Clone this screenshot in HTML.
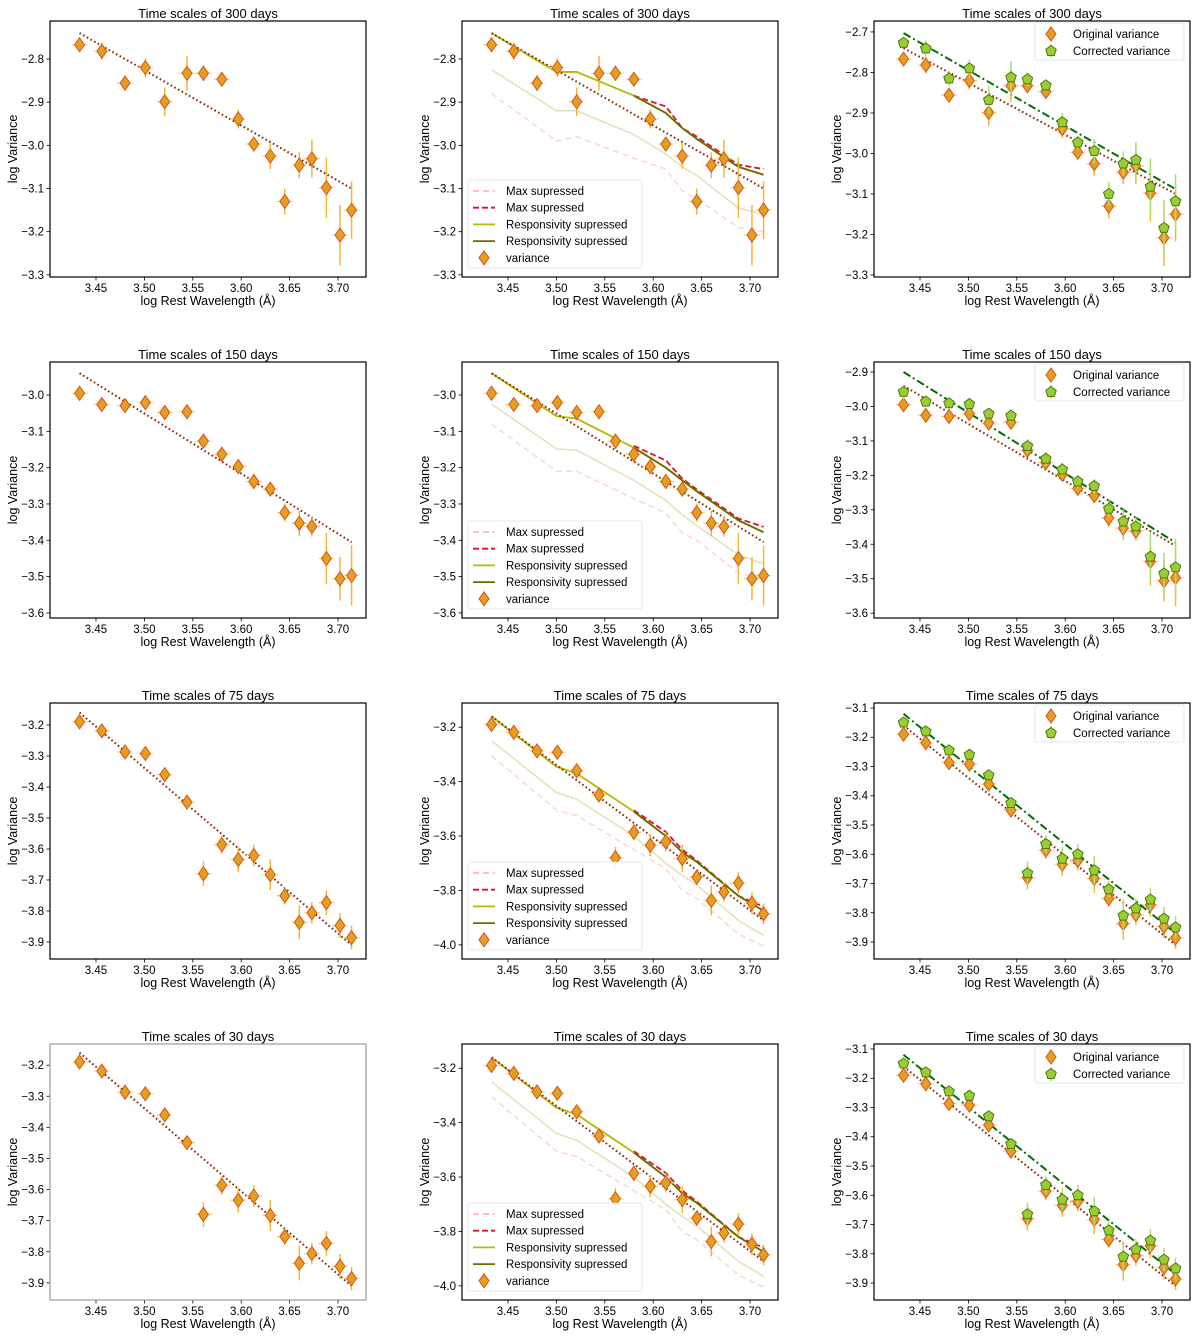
<!DOCTYPE html>
<html><head><meta charset="utf-8"><style>
html,body{margin:0;padding:0;background:#fff;}
svg text{font-family:"Liberation Sans","DejaVu Sans",sans-serif;fill:#000;}
</style></head><body>
<svg id="fig" width="1200" height="1336" viewBox="0 0 1200 1336" xmlns="http://www.w3.org/2000/svg"></svg>
<script>
// ---- data ----
const xs = [3.433,3.456,3.480,3.501,3.521,3.544,3.561,3.580,3.597,3.613,3.630,3.645,3.660,3.673,3.688,3.702,3.714];
const timescales = ["300","150","75","30"];
const var300 = [-2.767,-2.782,-2.856,-2.820,-2.899,-2.833,-2.833,-2.847,-2.939,-2.997,-3.025,-3.130,-3.046,-3.031,-3.098,-3.208,-3.150];
const err300 = [0.012,0.02,0.018,0.022,0.033,0.04,0.018,0.012,0.022,0.016,0.03,0.03,0.03,0.044,0.07,0.07,0.067];
const var150 = [-2.995,-3.026,-3.029,-3.021,-3.048,-3.046,-3.127,-3.163,-3.197,-3.238,-3.259,-3.324,-3.353,-3.362,-3.450,-3.506,-3.497];
const err150 = [0.02,0.012,0.015,0.018,0.015,0.02,0.02,0.02,0.02,0.02,0.02,0.025,0.035,0.028,0.07,0.06,0.083];
const var75 = [-3.190,-3.219,-3.287,-3.292,-3.360,-3.449,-3.680,-3.586,-3.634,-3.621,-3.683,-3.751,-3.837,-3.806,-3.773,-3.847,-3.886];
const err75 = [0.015,0.015,0.015,0.015,0.015,0.02,0.04,0.03,0.04,0.035,0.05,0.028,0.055,0.035,0.04,0.04,0.038];
const var30 = [-3.190,-3.219,-3.287,-3.292,-3.360,-3.449,-3.680,-3.586,-3.634,-3.621,-3.683,-3.751,-3.837,-3.806,-3.773,-3.847,-3.886];
const err30 = [0.015,0.015,0.015,0.015,0.015,0.02,0.04,0.03,0.04,0.035,0.05,0.028,0.055,0.035,0.04,0.04,0.038];
const corr300 = [-2.727,-2.741,-2.815,-2.790,-2.868,-2.812,-2.817,-2.832,-2.923,-2.973,-2.994,-3.100,-3.025,-3.016,-3.082,-3.184,-3.118];
const corr150 = [-2.958,-2.986,-2.991,-2.993,-3.021,-3.027,-3.115,-3.152,-3.183,-3.218,-3.231,-3.297,-3.334,-3.348,-3.436,-3.485,-3.467];
const corr75 = [-3.150,-3.180,-3.245,-3.260,-3.330,-3.425,-3.665,-3.565,-3.615,-3.600,-3.655,-3.720,-3.810,-3.785,-3.755,-3.820,-3.850];
const corr30 = [-3.150,-3.180,-3.245,-3.260,-3.330,-3.425,-3.665,-3.565,-3.615,-3.600,-3.655,-3.720,-3.810,-3.785,-3.755,-3.820,-3.850];
const fitOrig = [[-2.74,-3.10],[-2.94,-3.405],[-3.16,-3.91],[-3.16,-3.91]];
const fitCorr = [[-2.703,-3.088],[-2.90,-3.395],[-3.12,-3.87],[-3.12,-3.87]];
const modelX = [3.433,3.500,3.521,3.580,3.613,3.630,3.645,3.688,3.714];
const redX = [3.580,3.613,3.630,3.645,3.688,3.714];
const upper300 = [-2.74,-2.83,-2.83,-2.885,-2.925,-2.96,-2.985,-3.05,-3.068];
const red300 = [-2.885,-2.91,-2.96,-2.98,-3.045,-3.055];
const paleY300 = [-2.825,-2.92,-2.92,-2.975,-3.02,-3.05,-3.07,-3.145,-3.16];
const paleP300 = [-2.88,-2.99,-2.98,-3.03,-3.055,-3.105,-3.125,-3.19,-3.20];
const upper150 = [-2.94,-3.058,-3.065,-3.145,-3.20,-3.235,-3.265,-3.345,-3.378];
const red150 = [-3.14,-3.18,-3.23,-3.26,-3.34,-3.363];
const paleY150 = [-3.025,-3.148,-3.152,-3.235,-3.29,-3.33,-3.36,-3.44,-3.465];
const paleP150 = [-3.08,-3.21,-3.21,-3.285,-3.325,-3.38,-3.40,-3.49,-3.505];
const upper75 = [-3.16,-3.345,-3.37,-3.51,-3.60,-3.66,-3.695,-3.82,-3.875];
const red75 = [-3.505,-3.585,-3.65,-3.69,-3.82,-3.86];
const paleY75 = [-3.25,-3.44,-3.465,-3.60,-3.70,-3.745,-3.78,-3.91,-3.965];
const paleP75 = [-3.305,-3.505,-3.525,-3.65,-3.72,-3.80,-3.83,-3.96,-4.005];
const xTicks = [3.45,3.50,3.55,3.60,3.65,3.70];

const rowsVar = [var300,var150,var75,var30];
const rowsErr = [err300,err150,err75,err30];
const rowsCorr = [corr300,corr150,corr75,corr30];
const rowsUpper = [upper300,upper150,upper75,upper75];
const rowsRed = [red300,red150,red75,red75];
const rowsPaleY = [paleY300,paleY150,paleY75,paleY75];
const rowsPaleP = [paleP300,paleP150,paleP75,paleP75];
const ylims = [
 [[-3.305,-2.712],[-3.305,-2.712],[-3.305,-2.673]],
 [[-3.614,-2.909],[-3.614,-2.909],[-3.614,-2.871]],
 [[-3.955,-3.129],[-4.052,-3.111],[-3.958,-3.083]],
 [[-3.955,-3.132],[-4.052,-3.111],[-3.958,-3.083]]];
const yticks = [
 [[-2.8,-2.9,-3.0,-3.1,-3.2,-3.3],[-2.8,-2.9,-3.0,-3.1,-3.2,-3.3],[-2.7,-2.8,-2.9,-3.0,-3.1,-3.2,-3.3]],
 [[-3.0,-3.1,-3.2,-3.3,-3.4,-3.5,-3.6],[-3.0,-3.1,-3.2,-3.3,-3.4,-3.5,-3.6],[-2.9,-3.0,-3.1,-3.2,-3.3,-3.4,-3.5,-3.6]],
 [[-3.2,-3.3,-3.4,-3.5,-3.6,-3.7,-3.8,-3.9],[-3.2,-3.4,-3.6,-3.8,-4.0],[-3.1,-3.2,-3.3,-3.4,-3.5,-3.6,-3.7,-3.8,-3.9]],
 [[-3.2,-3.3,-3.4,-3.5,-3.6,-3.7,-3.8,-3.9],[-3.2,-3.4,-3.6,-3.8,-4.0],[-3.1,-3.2,-3.3,-3.4,-3.5,-3.6,-3.7,-3.8,-3.9]]];

const NS = "http://www.w3.org/2000/svg";
const svg = document.getElementById('fig');
const colL = [50,462,874], rowT = [21,362,703,1044], W = 316, H = 256;
const XMIN = 3.4025, XMAX = 3.7289;
function mk(tag, attrs, parent){const e=document.createElementNS(NS,tag);for(const k in attrs)e.setAttribute(k,attrs[k]);(parent||svg).appendChild(e);return e;}
function fmt(v,d){return (v<0?"\u2212":"")+Math.abs(v).toFixed(d);}
function diamond(x,y){return `${x},${y-7} ${x+5},${y} ${x},${y+7} ${x-5},${y}`;}

for(let r=0;r<4;r++){for(let c=0;c<3;c++){
  const L=colL[c],T=rowT[r],[ymin,ymax]=ylims[r][c];
  const X=v=>L+(v-XMIN)/(XMAX-XMIN)*W;
  const Y=v=>T+(ymax-v)/(ymax-ymin)*H;
  const g=mk('g',{});
  
  
  const t=mk('text',{x:L+W/2,y:T-3,'text-anchor':'middle','font-size':13},g);t.textContent='Time scales of '+timescales[r]+' days';
  
  const xl=mk('text',{x:L+W/2,y:T+H+28,'text-anchor':'middle','font-size':12.5},g);xl.textContent='log Rest Wavelength (\u00C5)';
  
  const yl=mk('text',{x:0,y:0,'text-anchor':'middle','font-size':12.5,transform:`translate(${L-33},${T+H/2}) rotate(-90)`},g);yl.textContent='log Variance';
  
  xTicks.forEach(v=>{const x=X(v);mk('line',{x1:x,x2:x,y1:T+H,y2:T+H+3.5,stroke:'#000','stroke-width':0.8},g);
    const tt=mk('text',{x:x,y:T+H+15,'text-anchor':'middle','font-size':11.5},g);tt.textContent=v.toFixed(2);
    });
  yticks[r][c].forEach(v=>{const y=Y(v);mk('line',{x1:L-3.5,x2:L,y1:y,y2:y,stroke:'#000','stroke-width':0.8},g);
    const tt=mk('text',{x:L-6,y:y+4,'text-anchor':'end','font-size':11.5},g);tt.textContent=fmt(v,1);
    });
  const poly=(xa,ya,st,name)=>{const p=mk('polyline',Object.assign({points:xa.map((x,i)=>X(x)+','+Y(ya[i])).join(' '),fill:'none'},st),g);
    return p;};
  if(c===1){
    poly(modelX,rowsPaleP[r],{stroke:'#ffc0cb','stroke-width':1.5,'stroke-dasharray':'6,4',opacity:0.7},'max-suppressed-lower-line');
    poly(modelX,rowsPaleY[r],{stroke:'#d8d49a','stroke-width':1.5,opacity:0.7},'responsivity-suppressed-lower-line');
    poly(modelX,rowsUpper[r],{stroke:'#ffb6c1','stroke-width':1.5,'stroke-dasharray':'6,4'},'max-suppressed-upper-line');
    poly(redX,rowsRed[r],{stroke:'#e0102a','stroke-width':1.8,'stroke-dasharray':'6,3'},'max-suppressed-line');
    poly(modelX,rowsUpper[r],{stroke:'#b8b800','stroke-width':1.8},'responsivity-suppressed-line');
    poly(modelX.slice(3),rowsUpper[r].slice(3),{stroke:'#6b6b00','stroke-width':1.8},'responsivity-suppressed-dark-line');
  }
  const fo=fitOrig[r];
  poly([xs[0],xs[16]],fo,{stroke:'#8b2500','stroke-width':2,'stroke-dasharray':'1.6,2.6'},'fit-line-original');
  if(c===2){
    const fc=fitCorr[r];
    poly([xs[0],xs[16]],fc,{stroke:'#007000','stroke-width':2,'stroke-dasharray':'8,3,2,3'},'fit-line-corrected');
  }
  const vals=rowsVar[r],errs=rowsErr[r];
  xs.forEach((xv,i)=>{
    const x=X(xv),y=Y(vals[i]);
    mk('line',{x1:x,x2:x,y1:Y(vals[i]+errs[i]),y2:Y(vals[i]-errs[i]),stroke:'#f4b733','stroke-width':1.5},g);
    mk('line',{x1:x-8,x2:x+8,y1:y,y2:y,stroke:'#f8d080','stroke-width':1.2},g);
    const d=mk('polygon',{points:diamond(x,y),fill:'#e0a020',stroke:'#e0501a','stroke-width':1},g);
    
  });
  if(c===2){
    const cv=rowsCorr[r];
    xs.forEach((xv,i)=>{
      const x=X(xv),y=Y(cv[i]);
      mk('line',{x1:x,x2:x,y1:Y(cv[i]+errs[i]),y2:Y(cv[i]-errs[i]),stroke:'#b0dc70','stroke-width':1.5},g);
      const pts=[];for(let k=0;k<5;k++){const a=-Math.PI/2+k*2*Math.PI/5;pts.push((x+5.5*Math.cos(a))+','+(y+5.5*Math.sin(a)));}
      const p=mk('polygon',{points:pts.join(' '),fill:'#9acd32',stroke:'#4a7a10','stroke-width':1},g);
      
    });
  }
  const fr=mk('rect',{x:L,y:T,width:W,height:H,fill:'none',stroke:(r===3&&c===0)?'#999':'#000','stroke-width':1.2},g);
  
  if(c===1){
    const lg=mk('g',{},g);
    const lx=L+6,ly=T+H-97;
    mk('rect',{x:lx,y:ly,width:174,height:88,fill:'#fff',stroke:'#ddd','stroke-width':0.8,rx:2,opacity:0.9},lg);
    const items=[['Max supressed',{stroke:'#ffb6c1','stroke-dasharray':'6,4'}],['Max supressed',{stroke:'#e0102a','stroke-dasharray':'6,3'}],
      ['Responsivity supressed',{stroke:'#b8b800'}],['Responsivity supressed',{stroke:'#6b6b00'}],['variance',null]];
    items.forEach((it,i)=>{const yy=ly+11+i*16.7;
      if(it[1]) mk('line',Object.assign({x1:lx+5,x2:lx+27,y1:yy,y2:yy,'stroke-width':1.8},it[1]),lg);
      else {mk('line',{x1:lx+16,x2:lx+16,y1:yy-7,y2:yy+7,stroke:'#f4b733','stroke-width':1.5},lg);
        mk('polygon',{points:diamond(lx+16,yy),fill:'#e0a020',stroke:'#e0501a','stroke-width':1},lg);}
      const tx=mk('text',{x:lx+38,y:yy+4,'font-size':11.5},lg);tx.textContent=it[0];
      });
  }
  if(c===2){
    const lg=mk('g',{},g);
    const lx=L+W-155,ly=T+2;
    mk('rect',{x:lx,y:ly,width:149,height:37,fill:'#fff',stroke:'#ddd','stroke-width':0.8,rx:2,opacity:0.9},lg);
    let yy=ly+11;
    mk('line',{x1:lx+16,x2:lx+16,y1:yy-7,y2:yy+7,stroke:'#f4b733','stroke-width':1.5},lg);
    mk('polygon',{points:diamond(lx+16,yy),fill:'#e0a020',stroke:'#e0501a','stroke-width':1},lg);
    let tx=mk('text',{x:lx+38,y:yy+4,'font-size':11.5},lg);tx.textContent='Original variance';
    
    yy=ly+28;
    mk('line',{x1:lx+16,x2:lx+16,y1:yy-7,y2:yy+7,stroke:'#b0dc70','stroke-width':1.5},lg);
    const pts=[];for(let k=0;k<5;k++){const a=-Math.PI/2+k*2*Math.PI/5;pts.push((lx+16+5.5*Math.cos(a))+','+(yy+5.5*Math.sin(a)));}
    mk('polygon',{points:pts.join(' '),fill:'#9acd32',stroke:'#4a7a10','stroke-width':1},lg);
    tx=mk('text',{x:lx+38,y:yy+4,'font-size':11.5},lg);tx.textContent='Corrected variance';
    
  }
}}
</script>
</body></html>
